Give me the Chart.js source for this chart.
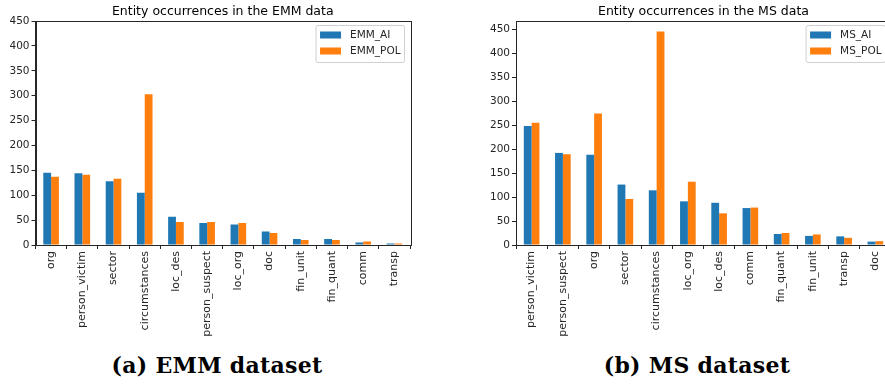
<!DOCTYPE html>
<html>
<head>
<meta charset="utf-8">
<script src="https://cdn.jsdelivr.net/npm/chart.js@4.4.0/dist/chart.umd.min.js"></script>
<style>
  body { margin: 0; background: #fff; width: 885px; height: 385px; overflow: hidden; position: relative; }
  .box { position: absolute; top: 0; }
  .cap { position: absolute; top: 352px; font-family: "DejaVu Serif"; font-weight: bold; font-size: 22px; letter-spacing: 0.3px; text-align: center; color: #000; white-space: nowrap; }
</style>
</head>
<body>
<div class="box" style="left:0"><canvas id="emm" width="445" height="345"></canvas></div>
<div class="box" style="left:445px"><canvas id="ms" width="460" height="345"></canvas></div>
<div class="cap" style="left:0;width:434px">(a) EMM dataset</div>
<div class="cap" style="left:445px;width:504px">(b) MS dataset</div>
<script>
const emmLabels = ['org', 'person_victim', 'sector', 'circumstances', 'loc_des', 'person_suspect', 'loc_org', 'doc', 'fin_unit', 'fin_quant', 'comm', 'transp'];
const emmAI  = [145, 144, 128, 105, 57, 44, 41, 27, 12, 12, 5, 3];
const emmPOL = [137, 141, 133, 303, 46, 46, 44, 24, 10, 10, 7, 3];

const msLabels = ['person_victim', 'person_suspect', 'org', 'sector', 'circumstances', 'loc_org', 'loc_des', 'comm', 'fin_quant', 'fin_unit', 'transp', 'doc'];
const msAI  = [248, 192, 188, 126, 114, 91, 88, 77, 23, 19, 18, 7];
const msPOL = [255, 189, 274, 96, 445, 132, 66, 78, 25, 22, 15, 8];

const yTicks = [0, 50, 100, 150, 200, 250, 300, 350, 400, 450];

const BLUE = '#1f77b4';
const ORANGE = '#ff7f0e';
const INK = '#262626';
const FONT = 'DejaVu Sans';

// box around the plot, title over the axes and legend in the upper right corner
const framePlugin = {
  id: 'frame',
  afterDraw(chart) {
    const a = chart.chartArea;
    const c = chart.ctx;
    c.save();
    c.strokeStyle = INK;
    c.lineWidth = 1;
    c.strokeRect(Math.round(a.left) + 0.5, Math.round(a.top) + 0.5,
                 Math.round(a.right - a.left), Math.round(a.bottom - a.top));

    c.fillStyle = '#000';
    c.font = '12.5px "' + FONT + '"';
    c.textAlign = 'center';
    c.textBaseline = 'alphabetic';
    c.fillText(chart.options.plugins.frame.title, (a.left + a.right) / 2, a.top - 6);

    c.textAlign = 'left';
    c.font = '10.5px "' + FONT + '"';
    const sets = chart.data.datasets;
    let tw = 0;
    sets.forEach(d => { tw = Math.max(tw, c.measureText(d.label).width); });
    const w = 34 + tw + 4;
    const x0 = a.right - 5.5 - w;
    const y0 = a.top + 4.5;
    c.fillStyle = 'rgba(255,255,255,0.8)';
    c.strokeStyle = '#d0d0d0';
    c.beginPath();
    c.roundRect(x0, y0, w, 37, 2);
    c.fill();
    c.stroke();
    sets.forEach((d, i) => {
      const yy = y0 + 6 + i * 16;
      c.fillStyle = d.backgroundColor;
      c.fillRect(x0 + 4, yy, 21, 7);
      c.fillStyle = INK;
      c.textBaseline = 'middle';
      c.fillText(d.label, x0 + 34, yy + 4);
    });
    c.restore();
  }
};

function makeChart(id, title, labels, ai, pol, names, ymax, yWidth, padRight) {
  return new Chart(document.getElementById(id), {
    type: 'bar',
    data: {
      labels: labels,
      datasets: [
        { label: names[0], data: ai, backgroundColor: BLUE },
        { label: names[1], data: pol, backgroundColor: ORANGE }
      ]
    },
    options: {
      responsive: false,
      animation: false,
      layout: { padding: { left: 0, right: padRight, top: 21, bottom: 0 } },
      datasets: { bar: { categoryPercentage: 0.5, barPercentage: 1.0 } },
      plugins: {
        legend: { display: false },
        tooltip: { enabled: false },
        title: { display: false },
        frame: { title: title }
      },
      scales: {
        x: {
          grid: { display: true, drawOnChartArea: false, drawTicks: true, tickLength: 4, color: INK },
          border: { display: true, color: INK },
          ticks: {
            color: INK, autoSkip: false, maxRotation: 90, minRotation: 90, padding: 2,
            font: { family: FONT, size: 11 }
          },
          afterFit: s => { s.height = 100; }
        },
        y: {
          min: 0,
          max: ymax,
          grid: { display: true, drawOnChartArea: false, drawTicks: true, tickLength: 4, color: INK },
          border: { display: true, color: INK },
          ticks: { color: INK, padding: 2, font: { family: FONT, size: 10.5 } },
          afterBuildTicks: s => { s.ticks = yTicks.map(v => ({ value: v })); },
          afterFit: s => { s.width = yWidth; }
        }
      }
    },
    plugins: [framePlugin]
  });
}

makeChart('emm', 'Entity occurrences in the EMM data', emmLabels, emmAI, emmPOL, ['EMM_AI', 'EMM_POL'], 450, 35.5, 35);
makeChart('ms', 'Entity occurrences in the MS data', msLabels, msAI, msPOL, ['MS_AI', 'MS_POL'], 467, 71, 14);
</script>
</body>
</html>
